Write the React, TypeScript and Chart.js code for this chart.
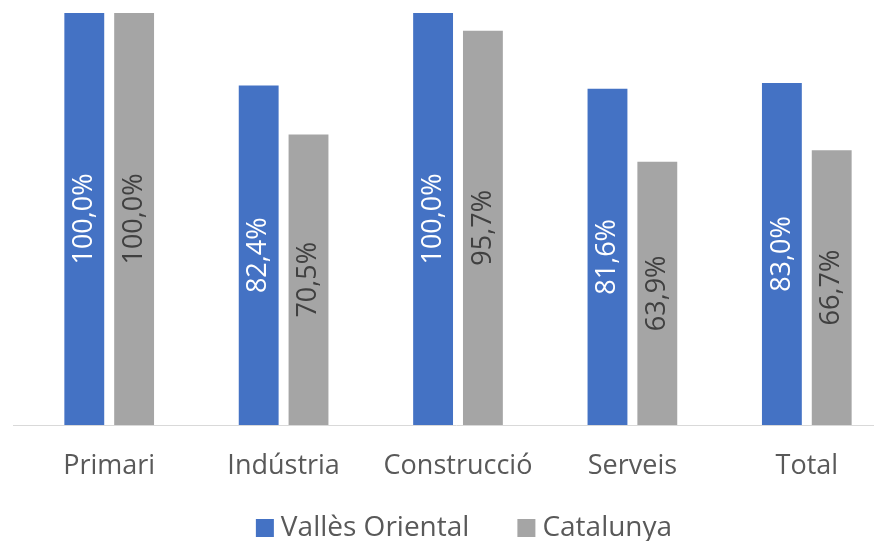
import React, { useEffect, useRef } from "react";
import { Chart, registerables } from "chart.js";
Chart.register(...registerables);

const categories = ["Primari", "Indústria", "Construcció", "Serveis", "Total"];
const seriesNames = ["Vallès Oriental", "Catalunya"];
const vallesValues = [100.0, 82.4, 100.0, 81.6, 83.0];
const catalunyaValues = [100.0, 70.5, 95.7, 63.9, 66.7];
const seriesColors = ["#4472C4", "#A5A5A5"];
const labelColors = ["#FFFFFF", "#404040"];

const FONT = "'Open Sans', Lato, sans-serif";
const fmt = (v: number) => v.toFixed(1).replace(".", ",") + "%";

const labelPlugin = {
  id: "rotLabels",
  afterDatasetsDraw(chart: any) {
    const ctx = chart.ctx;
    chart.data.datasets.forEach((ds: any, di: number) => {
      const meta = chart.getDatasetMeta(di);
      meta.data.forEach((bar: any, i: number) => {
        const cy = (bar.y + bar.base) / 2;
        ctx.save();
        ctx.translate(bar.x, cy);
        ctx.rotate(-Math.PI / 2);
        ctx.font = `27px ${FONT}`;
        ctx.fillStyle = labelColors[di];
        ctx.textAlign = "center";
        ctx.textBaseline = "middle";
        ctx.fillText(fmt(ds.data[i]), 0, 0);
        ctx.restore();
      });
    });
  },
  afterDraw(chart: any) {
    const ctx = chart.ctx;
    const { bottom } = chart.chartArea;
    ctx.save();
    ctx.strokeStyle = "#D9D9D9";
    ctx.lineWidth = 1;
    ctx.beginPath();
    ctx.moveTo(13, Math.round(bottom) + 0.5);
    ctx.lineTo(chart.width, Math.round(bottom) + 0.5);
    ctx.stroke();
    // legend
    ctx.font = `28px ${FONT}`;
    ctx.textBaseline = "middle";
    ctx.textAlign = "left";
    const box = 18, gapText = 7, gapItem = 48;
    const widths = seriesNames.map((n) => ctx.measureText(n).width);
    const total = widths.reduce((a, w) => a + box + gapText + w, 0) + gapItem * (seriesNames.length - 1);
    let x = 464 - total / 2;
    const cy = 528;
    seriesNames.forEach((name, i) => {
      ctx.fillStyle = seriesColors[i];
      ctx.fillRect(x, cy - 9, box, box);
      x += box + gapText;
      ctx.fillStyle = "#595959";
      ctx.fillText(name, x, cy);
      x += widths[i] + gapItem;
    });
    ctx.restore();
  },
};

export default function App() {
  const ref = useRef<HTMLCanvasElement>(null);
  useEffect(() => {
    const chart = new Chart(ref.current!, {
      type: "bar",
      data: {
        labels: categories,
        datasets: [
          { label: seriesNames[0], data: vallesValues, backgroundColor: seriesColors[0] },
          { label: seriesNames[1], data: catalunyaValues, backgroundColor: seriesColors[1] },
        ],
      },
      options: {
        animation: false,
        responsive: false,
        devicePixelRatio: 1,
        layout: { padding: { top: 13, left: 22, right: 6, bottom: 33.6 } },
        datasets: { bar: { categoryPercentage: 100 / 175, barPercentage: 0.8 } },
        plugins: { legend: { display: false }, tooltip: { enabled: false } },
        scales: {
          y: { display: false, min: 0, max: 100 },
          x: {
            grid: { display: false, drawTicks: false },
            border: { display: false },
            ticks: { color: "#595959", font: { family: FONT, size: 27 }, padding: 25 },
          },
        },
      },
      plugins: [labelPlugin],
    });
    return () => chart.destroy();
  }, []);
  return (
    <div style={{ position: "fixed", left: 0, top: 0, width: 874, height: 541, overflow: "hidden", background: "#fff" }}>
      <canvas ref={ref} width={900} height={541} style={{ display: "block", width: 900, height: 541 }} />
    </div>
  );
}
